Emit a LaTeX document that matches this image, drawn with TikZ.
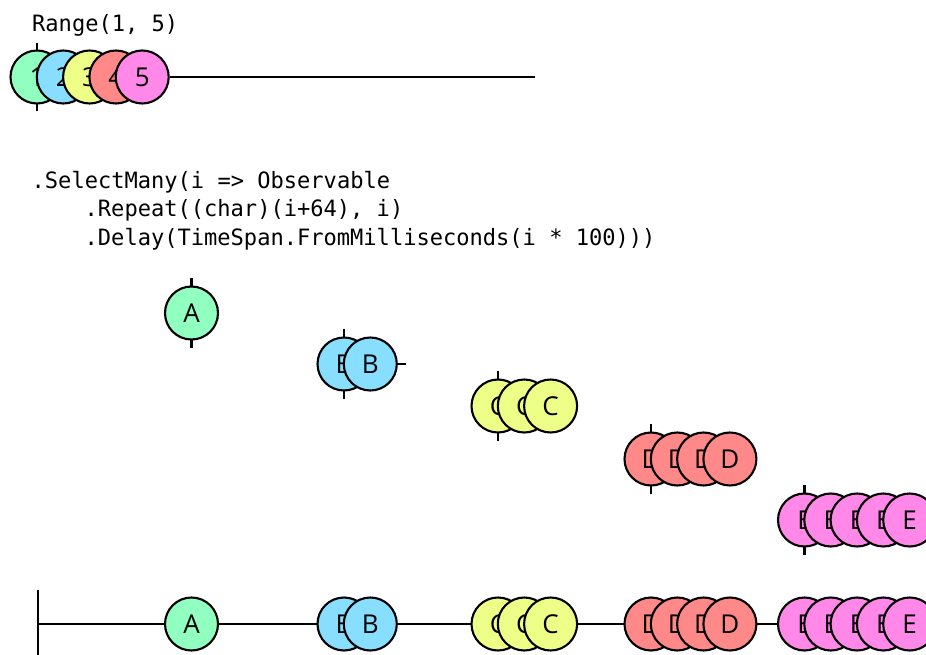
\documentclass[tikz,border=0pt]{standalone}
\usepackage{fontspec}
\newfontfamily\codefont[FakeStretch=0.98]{DejaVu Sans Mono}
\newfontfamily\marblefont{Open Sans}
\definecolor{mgreen}{RGB}{144,255,192}
\definecolor{mblue}{RGB}{136,222,255}
\definecolor{myellow}{RGB}{238,255,136}
\definecolor{mred}{RGB}{255,136,136}
\definecolor{mpink}{RGB}{255,136,232}
\begin{document}
\begin{tikzpicture}[x=1pt,y=-1pt,
  marble/.style={circle,draw=black,line width=2.1pt,minimum size=53pt,
    inner sep=0pt,font=\marblefont\fontsize{26}{26}\selectfont},
  axis/.style={line width=2.1pt,black},
  code/.style={anchor=base west,inner sep=0pt,
    font=\codefont\fontsize{22.5}{22.5}\selectfont}]
\useasboundingbox (0,0) rectangle (926,655);
\clip (0,0) rectangle (926,655);

% source sequence
\node[code] (rangetxt) at (32,32) {Range(1, 5)};
\coordinate (rt-top) at (37,43);
\coordinate (rt-bot) at (37,111);
\draw[axis] (rt-top) -- (rt-bot);
\foreach \i/\col in {1/mgreen,2/mblue,3/myellow,4/mred,5/mpink} {
  \node[marble,fill=\col] (r\i) at ({37+26.3*(\i-1)},77) {\i};
}
\coordinate (top-end) at (535,77);
\draw[axis] (r5.east) -- (top-end);

% operator
\node[code] (op1) at (31.5,189) {.SelectMany(i => Observable};
\node[code] (op2) at (84.5,217) {.Repeat((char)(i+64), i)};
\node[code] (op3) at (84.5,245) {.Delay(TimeSpan.FromMilliseconds(i * 100)))};

% inner sequences
\coordinate (bstub) at (406,364);
\draw[axis] (344,364) -- (bstub);
\foreach \k/\L/\x/\y/\col in {1/A/191.5/313/mgreen, 2/B/344/364/mblue,
    3/C/498/406/myellow, 4/D/651/459/mred, 5/E/804.5/520/mpink} {
  \coordinate (t\k-top) at (\x,\y-35);
  \coordinate (t\k-bot) at (\x,\y+35);
  \draw[axis] (t\k-top) -- (t\k-bot);
  \foreach \j in {1,...,\k} {
    \node[marble,fill=\col] (g\k-\j) at ({\x+26.3*(\j-1)},\y) {\L};
  }
}

% merged result
\coordinate (bot-start) at (38,624);
\coordinate (bot-end) at (930,624);
\coordinate (bt-top) at (38,590);
\coordinate (bt-bot) at (38,660);
\draw[axis] (bt-top) -- (bt-bot);
\draw[axis] (bot-start) -- (bot-end);
\foreach \k/\L/\x/\col in {1/A/191.5/mgreen, 2/B/344/mblue,
    3/C/498/myellow, 4/D/651/mred, 5/E/804.5/mpink} {
  \foreach \j in {1,...,\k} {
    \node[marble,fill=\col] (h\k-\j) at ({\x+26.3*(\j-1)},624) {\L};
  }
}
\end{tikzpicture}
\end{document}
